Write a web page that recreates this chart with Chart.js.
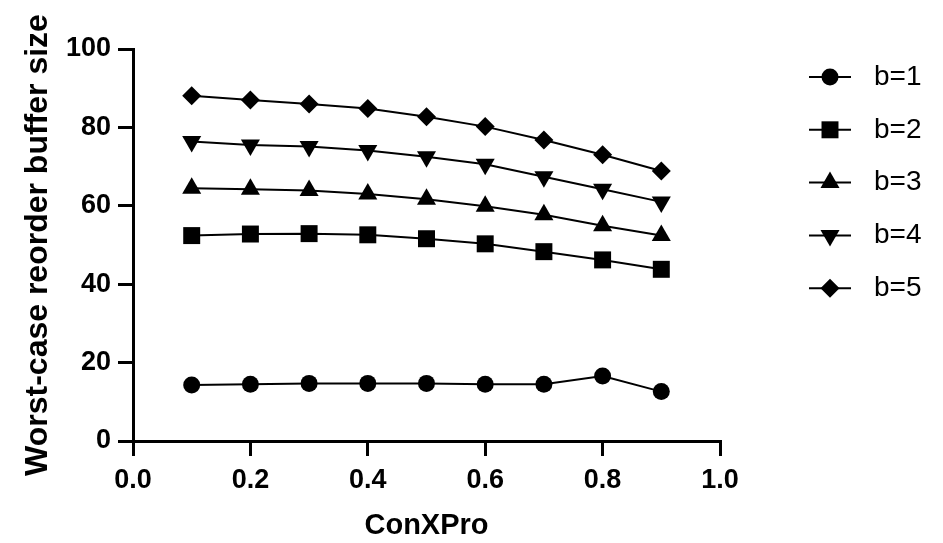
<!DOCTYPE html>
<html>
<head>
<meta charset="utf-8">
<script src="https://cdn.jsdelivr.net/npm/chart.js@4/dist/chart.umd.min.js"></script>
<style>
  body { margin: 0; background: #fff; }
</style>
</head>
<body>
<canvas id="chart" width="943" height="543"></canvas>
<script>
const conxpro = [0.1, 0.2, 0.3, 0.4, 0.5, 0.6, 0.7, 0.8, 0.9];
const labels = ['b=1', 'b=2', 'b=3', 'b=4', 'b=5'];
const b1 = [14.3, 14.5, 14.7, 14.7, 14.7, 14.5, 14.5, 16.6, 12.6];
const b2 = [52.4, 52.8, 52.9, 52.6, 51.6, 50.3, 48.3, 46.2, 43.8];
const b3 = [64.5, 64.2, 63.9, 63.0, 61.7, 59.9, 57.7, 54.9, 52.4];
const b4 = [76.4, 75.5, 75.1, 74.1, 72.5, 70.6, 67.4, 64.2, 61.0];
const b5 = [88.1, 87.0, 86.0, 84.8, 82.7, 80.2, 76.8, 73.0, 68.9];
const xTicks = [0, 0.2, 0.4, 0.6, 0.8, 1.0];
const yTicks = [0, 20, 40, 60, 80, 100];

const FONT = 'Arial, "Liberation Sans", Helvetica, sans-serif';

// marker look for each series
const markers = [
    { style: 'circle', radius: 8.5, rotation: 0 },
    { style: 'rect', radius: 12, rotation: 0 },
    { style: 'triangle', radius: 11, rotation: 0 },
    { style: 'triangle', radius: 11, rotation: 180 },
    { style: 'rectRot', radius: 9.5, rotation: 0 }
];

const series = [b1, b2, b3, b4, b5];

const datasets = series.map((vals, i) => ({
    label: labels[i],
    data: vals.map((v, j) => ({ x: conxpro[j], y: v })),
    borderColor: '#000',
    backgroundColor: '#000',
    borderWidth: 2,
    pointStyle: markers[i].style,
    pointRadius: markers[i].radius,
    pointRotation: markers[i].rotation,
    pointBorderWidth: 0,
    tension: 0
}));

// legend drawn to the right: short line with the series marker through it
const sideLegend = {
    id: 'sideLegend',
    afterDraw(chart) {
        const ctx = chart.ctx;
        ctx.save();
        chart.data.datasets.forEach((ds, i) => {
            const y = 77 + i * 52.8;
            ctx.strokeStyle = '#000';
            ctx.lineWidth = 2;
            ctx.beginPath();
            ctx.moveTo(809, y);
            ctx.lineTo(851, y);
            ctx.stroke();
            ctx.fillStyle = '#000';
            Chart.helpers.drawPoint(ctx, {
                pointStyle: markers[i].style,
                rotation: markers[i].rotation,
                radius: markers[i].radius,
                borderWidth: 0
            }, 830, y);
            ctx.font = '28px ' + FONT;
            ctx.textAlign = 'left';
            ctx.textBaseline = 'middle';
            ctx.fillText(ds.label, 874, y);
        });
        ctx.restore();
    }
};

new Chart(document.getElementById('chart'), {
    type: 'line',
    data: { datasets },
    plugins: [sideLegend],
    options: {
        responsive: false,
        animation: false,
        devicePixelRatio: 1,
        layout: { padding: { top: 49, right: 223, bottom: 0, left: 0 } },
        plugins: {
            legend: { display: false },
            tooltip: { enabled: false }
        },
        scales: {
            x: {
                type: 'linear',
                min: 0,
                max: 1,
                afterFit: (scale) => { scale.height = 102; },
                afterBuildTicks: (scale) => { scale.ticks = xTicks.map(v => ({ value: v })); },
                ticks: {
                    color: '#000',
                    font: { family: FONT, size: 27, weight: 'bold' },
                    padding: 8,
                    maxRotation: 0,
                    callback: (v) => Number(v).toFixed(1)
                },
                grid: {
                    drawOnChartArea: false,
                    color: '#000',
                    lineWidth: 3,
                    tickLength: 15
                },
                border: { color: '#000', width: 3 },
                title: {
                    display: true,
                    text: 'ConXPro',
                    color: '#000',
                    font: { family: FONT, size: 29, weight: 'bold' },
                    padding: { top: 0, bottom: 0 }
                }
            },
            y: {
                min: 0,
                max: 100,
                afterFit: (scale) => { scale.width = 133; },
                afterBuildTicks: (scale) => { scale.ticks = yTicks.map(v => ({ value: v })); },
                ticks: {
                    color: '#000',
                    font: { family: FONT, size: 27, weight: 'bold' },
                    padding: 7
                },
                grid: {
                    drawOnChartArea: false,
                    color: '#000',
                    lineWidth: 3,
                    tickLength: 15
                },
                border: { color: '#000', width: 3 },
                title: {
                    display: true,
                    text: 'Worst-case reorder buffer size',
                    color: '#000',
                    font: { family: FONT, size: 32, weight: 'bold' },
                    padding: { top: 19, bottom: 0 }
                }
            }
        }
    }
});
</script>
</body>
</html>
